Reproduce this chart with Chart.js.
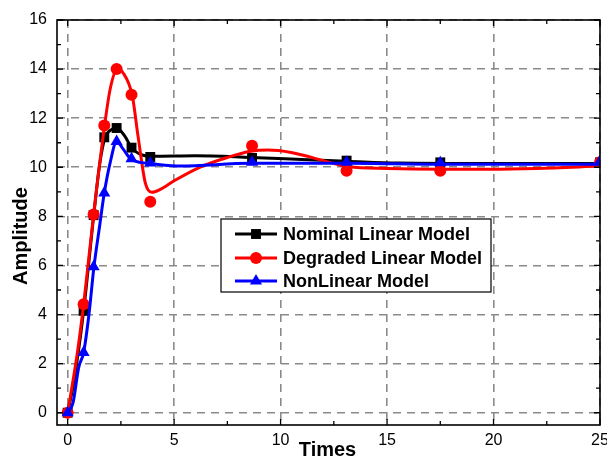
<!DOCTYPE html>
<html>
<head>
<meta charset="utf-8">
<script src="https://cdn.jsdelivr.net/npm/chart.js@4/dist/chart.umd.min.js"></script>
<style>
  html, body { margin: 0; padding: 0; background: #fff; }
  #wrap { width: 607px; height: 457px; }
</style>
</head>
<body>
<div id="wrap"><canvas id="chart" width="607" height="457"></canvas></div>
<script>
(function() {
'use strict';

// --- data ---
const xTicks = [0, 5, 10, 15, 20, 25];
const yTicks = [0, 2, 4, 6, 8, 10, 12, 14, 16];

const seriesNames = ['Nominal Linear Model', 'Degraded Linear Model', 'NonLinear Model'];

// sampled markers
const markerX    = [0, 0.75, 1.22, 1.72, 2.3, 3.0, 3.88, 8.66, 13.1, 17.5, 25];
const nominalY   = [0, 4.15, 8.05, 11.22, 11.6, 10.8, 10.42, 10.38, 10.27, 10.2, 10.2];
const degradedY  = [0, 4.42, 8.08, 11.7, 14.0, 12.95, 8.6, 10.88, 9.86, 9.86, 10.2];
const nonlinearY = [0, 2.45, 5.95, 8.95, 11.05, 10.35, 10.17, 10.2, 10.2, 10.18, 10.25];

// continuous responses
const nominalCurveX = [0, 0.3, 0.75, 1.22, 1.5, 1.75, 2.0, 2.3, 2.7, 3.0, 3.5, 4.0, 6.0, 8.6, 11.0, 13.1, 15.5, 20, 25];
const nominalCurveY = [0, 1.3, 4.15, 8.0, 10.1, 11.2, 11.5, 11.6, 11.25, 10.8, 10.5, 10.45, 10.47, 10.4, 10.32, 10.25, 10.17, 10.15, 10.15];

const degradedCurveX = [0, 0.45, 0.75, 1.22, 1.73, 2.0, 2.34, 2.6, 3.04, 3.3, 3.65, 3.95, 4.35, 5.0, 6.2, 7.5, 8.6, 9.4, 10.5, 12.3, 13.2, 15, 17.5, 19.8, 22, 25];
const degradedCurveY = [0, 2.4, 4.4, 8.08, 11.67, 13.2, 14.0, 13.85, 12.9, 11.3, 9.35, 8.98, 9.1, 9.45, 10.0, 10.4, 10.65, 10.7, 10.6, 10.2, 10.02, 9.95, 9.92, 9.92, 9.95, 10.05];

const nonlinearCurveX = [0, 0.25, 0.52, 0.75, 1.0, 1.23, 1.5, 1.72, 2.0, 2.3, 2.6, 2.95, 3.4, 3.9, 5.3, 8.6, 13.1, 17.5, 25];
const nonlinearCurveY = [0, 0.4, 1.85, 2.45, 4.0, 5.9, 7.6, 8.95, 10.2, 11.05, 10.75, 10.35, 10.2, 10.15, 10.05, 10.16, 10.16, 10.12, 10.12];

const colors = ['#000000', '#ff0000', '#0000ff'];
const shapes = ['rect', 'circle', 'triangle'];
const radii = [7, 6, 7];

function pairs(xs, ys) {
  return xs.map((x, i) => ({ x: x, y: ys[i] }));
}

const curves = [
  pairs(nominalCurveX, nominalCurveY),
  pairs(degradedCurveX, degradedCurveY),
  pairs(nonlinearCurveX, nonlinearCurveY)
];
const markers = [
  pairs(markerX, nominalY),
  pairs(markerX, degradedY),
  pairs(markerX, nonlinearY)
];

const FONT = '"Liberation Sans", Arial, sans-serif';

const datasets = [];
for (let i = 0; i < 3; i++) {
  datasets.push({
    label: seriesNames[i],
    data: curves[i],
    borderColor: colors[i],
    borderWidth: 3,
    pointRadius: 0,
    cubicInterpolationMode: 'monotone',
    fill: false,
    order: 3 - i
  });
}
for (let i = 0; i < 3; i++) {
  datasets.push({
    label: seriesNames[i] + ' markers',
    data: markers[i],
    showLine: false,
    pointStyle: shapes[i],
    pointRadius: radii[i],
    pointBackgroundColor: colors[i],
    pointBorderColor: colors[i],
    pointBorderWidth: 0,
    order: 3 - i
  });
}

// frame with inward ticks, axis titles, legend box
const decorations = {
  id: 'decorations',
  afterDraw(chart) {
    const ctx = chart.ctx;
    const a = chart.chartArea;
    const xs = chart.scales.x, ys = chart.scales.y;
    ctx.save();
    ctx.strokeStyle = '#000';
    ctx.lineWidth = 1.6;
    ctx.strokeRect(a.left, a.top, a.right - a.left, a.bottom - a.top);

    ctx.lineWidth = 1.3;
    ctx.beginPath();
    for (let v = 0; v <= 25; v += 2.5) {
      const px = xs.getPixelForValue(v);
      const len = (v % 5 === 0) ? 6 : 4;
      ctx.moveTo(px, a.bottom); ctx.lineTo(px, a.bottom - len);
      ctx.moveTo(px, a.top); ctx.lineTo(px, a.top + len);
    }
    for (let v = 0; v <= 16; v += 1) {
      const py = ys.getPixelForValue(v);
      const len = (v % 2 === 0) ? 6 : 4;
      ctx.moveTo(a.left, py); ctx.lineTo(a.left + len, py);
      ctx.moveTo(a.right, py); ctx.lineTo(a.right - len, py);
    }
    ctx.stroke();

    // axis titles
    ctx.fillStyle = '#000';
    ctx.font = 'bold 20px ' + FONT;
    ctx.textAlign = 'center';
    ctx.textBaseline = 'alphabetic';
    ctx.fillText('Times', (a.left + a.right) / 2 - 1, 456);
    ctx.save();
    ctx.translate(27, 236);
    ctx.rotate(-Math.PI / 2);
    ctx.fillText('Amplitude', 0, 0);
    ctx.restore();

    // legend
    const bx = 221, by = 219, bw = 270, bh = 73;
    ctx.fillStyle = '#fff';
    ctx.fillRect(bx, by, bw, bh);
    ctx.strokeStyle = '#000';
    ctx.lineWidth = 1.2;
    ctx.strokeRect(bx, by, bw, bh);
    const rows = [234, 258, 281];
    ctx.font = 'bold 18px ' + FONT;
    ctx.textAlign = 'left';
    ctx.textBaseline = 'middle';
    for (let i = 0; i < 3; i++) {
      const ry = rows[i];
      ctx.strokeStyle = colors[i];
      ctx.lineWidth = 3;
      ctx.beginPath();
      ctx.moveTo(235, ry); ctx.lineTo(277, ry);
      ctx.stroke();
      ctx.fillStyle = colors[i];
      Chart.helpers.drawPoint(ctx, { pointStyle: shapes[i], radius: radii[i], borderWidth: 0 }, 256, ry);
      ctx.fillStyle = '#000';
      ctx.fillText(seriesNames[i], 283, ry + 1);
    }
    ctx.restore();
  }
};

new Chart(document.getElementById('chart'), {
  type: 'line',
  data: { datasets: datasets },
  options: {
    responsive: false,
    animation: false,
    layout: { padding: { left: 0, top: 20, right: 4, bottom: 0 } },
    plugins: {
      legend: { display: false },
      tooltip: { enabled: false }
    },
    scales: {
      x: {
        type: 'linear',
        min: -0.5,
        max: 25,
        afterBuildTicks: s => { s.ticks = xTicks.map(v => ({ value: v })); },
        afterFit: s => { s.height = 32; s.paddingLeft = 0; s.paddingRight = 0; },
        ticks: {
          color: '#000',
          font: { size: 16, family: FONT },
          padding: 6,
          maxRotation: 0,
          autoSkip: false
        },
        grid: { color: '#8a8a8a', lineWidth: 1.6, drawTicks: false },
        border: { display: false, dash: [8, 6] }
      },
      y: {
        type: 'linear',
        min: -0.5,
        max: 16,
        afterBuildTicks: s => { s.ticks = yTicks.map(v => ({ value: v })); },
        afterFit: s => { s.width = 57; s.paddingTop = 0; s.paddingBottom = 0; },
        ticks: {
          color: '#000',
          font: { size: 16, family: FONT },
          padding: 10,
          autoSkip: false
        },
        grid: { color: '#8a8a8a', lineWidth: 1.6, drawTicks: false },
        border: { display: false, dash: [8, 6] }
      }
    }
  },
  plugins: [decorations]
});

})();
</script>
</body>
</html>
